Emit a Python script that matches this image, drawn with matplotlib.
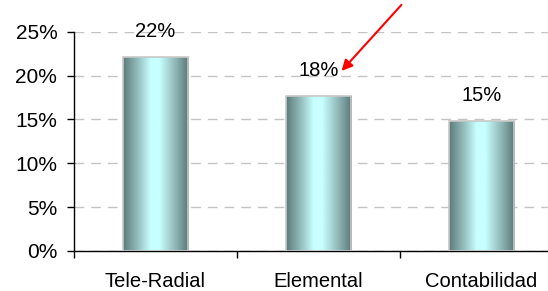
import numpy as np
import matplotlib.pyplot as plt
from matplotlib.colors import LinearSegmentedColormap
from matplotlib.patches import Rectangle

# data
categories = ['Tele-Radial', 'Elemental', 'Contabilidad']
values = [22.1, 17.7, 14.8]
labels = ['22%', '18%', '15%']
yticks = [0, 5, 10, 15, 20, 25]

plt.rcParams['font.family'] = ['Liberation Sans', 'DejaVu Sans']

fig = plt.figure(figsize=(5.48, 2.91), dpi=100)
ax = fig.add_axes([74 / 548, 40 / 291, 489 / 548, 219.2 / 291])

# cylinder shading for the bars
cyl = LinearSegmentedColormap.from_list('cyl', [
    (0.0, '#5c7b7b'), (0.2, '#8fb5b5'), (0.42, '#c8ffff'),
    (0.55, '#c8ffff'), (0.8, '#8fb5b5'), (1.0, '#5a7676')])
grad = np.linspace(0, 1, 256).reshape(1, -1)

x = np.arange(len(categories))
width = 0.4
bars = ax.bar(x, values, width, color='none', edgecolor='#c8c8c8', linewidth=1.2, zorder=3)
for rect in bars:
    x0, y0 = rect.get_x(), rect.get_y()
    w, h = rect.get_width(), rect.get_height()
    im = ax.imshow(grad, cmap=cyl, aspect='auto', extent=(x0, x0 + w, y0, y0 + h),
                   interpolation='bicubic', zorder=2)
    clip = Rectangle((x0, y0), w, h, transform=ax.transData)
    im.set_clip_path(clip)

for xi, v, lab in zip(x, values, labels):
    ax.text(xi, v + 2.9, lab, ha='center', va='center', fontsize=14.5)

ax.set_xlim(-0.5, 2.5)
ax.set_ylim(0, 25)
ax.set_yticks(yticks)
ax.set_yticklabels([f'{t}%' for t in yticks], fontsize=15)
ax.set_xticks(x)
ax.set_xticklabels(categories, fontsize=14.5)
ax.set_xticks([-0.5, 0.5, 1.5, 2.5], minor=True)
ax.tick_params(axis='x', which='major', length=0, pad=15)
ax.tick_params(axis='x', which='minor', length=5, width=1)
ax.tick_params(axis='y', length=5, width=1, pad=7)

ax.yaxis.grid(True, linestyle=(0, (7, 5)), color='#c4c4c4', linewidth=1)
ax.set_axisbelow(True)
for s in ['top', 'right']:
    ax.spines[s].set_visible(False)
ax.spines['left'].set_linewidth(1)
ax.spines['bottom'].set_linewidth(1)

# red arrow pointing at the middle label
ax.annotate('', xy=(1.13, 20.3), xytext=(1.52, 28.3),
            arrowprops=dict(arrowstyle='-|>', color='#ff0000', lw=1.5,
                            mutation_scale=16), annotation_clip=False)

fig.savefig('out.png', dpi=100)
